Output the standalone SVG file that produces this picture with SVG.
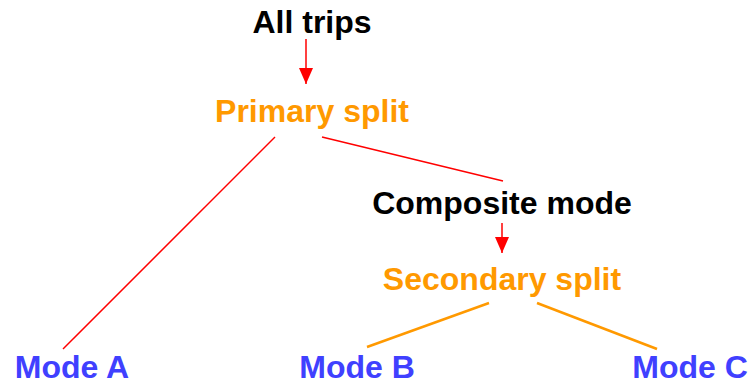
<svg xmlns="http://www.w3.org/2000/svg" width="751" height="384" viewBox="0 0 751 384">
<style>
text{font-family:"Liberation Sans",Arial,sans-serif;font-weight:bold;font-size:32px;text-anchor:middle}
.blk{fill:#000}
.org{fill:#FF9900}
.blu{fill:#4040FF}
.red{stroke:#FF0000;stroke-width:1.5;fill:none}
.orl{stroke:#FF9900;stroke-width:2.5;fill:none}
</style>
<defs>
<marker id="ah" markerWidth="16" markerHeight="16" viewBox="0 0 16 16" refX="16" refY="8" orient="auto" markerUnits="userSpaceOnUse">
<path d="M0,1 L16,8 L0,15 Z" fill="#FF0000"/>
</marker>
</defs>
<g id="connectors">
<line class="red" x1="306" y1="39" x2="306" y2="84" marker-end="url(#ah)"/>
<line class="red" x1="502" y1="223" x2="502" y2="253" marker-end="url(#ah)"/>
<line class="red" x1="275" y1="137" x2="63" y2="349"/>
<line class="red" x1="322" y1="137" x2="503" y2="181"/>
<line class="orl" x1="489" y1="303" x2="367" y2="347"/>
<line class="orl" x1="537" y1="303" x2="657" y2="349"/>
</g>
<g id="all-trips"><text class="blk" x="312" y="33">All trips</text></g>
<g id="primary-split"><text class="org" x="312" y="122">Primary split</text></g>
<g id="composite-mode"><text class="blk" x="502" y="214">Composite mode</text></g>
<g id="secondary-split"><text class="org" x="502" y="290">Secondary split</text></g>
<g id="mode-a"><text class="blu" x="72" y="378">Mode A</text></g>
<g id="mode-b"><text class="blu" x="357" y="378">Mode B</text></g>
<g id="mode-c"><text class="blu" x="690" y="378">Mode C</text></g>
</svg>
